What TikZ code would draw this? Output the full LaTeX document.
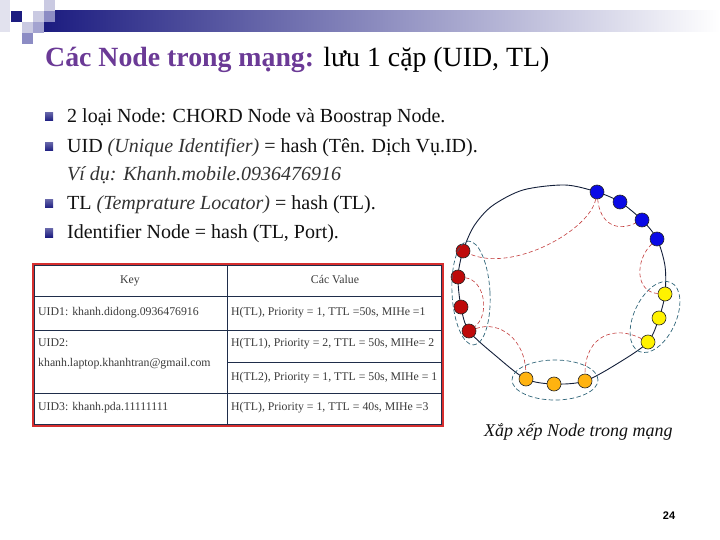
\documentclass[tikz,border=0pt]{standalone}
\usepackage{fontspec}
\setmainfont{Liberation Serif}
\newfontfamily\pagefont{Liberation Sans}
\usetikzlibrary{backgrounds}
\definecolor{Navy}{HTML}{1C1C80}
\definecolor{NavyMid}{HTML}{8C8CC4}
\definecolor{NavyLight}{HTML}{CACAE2}
\definecolor{NavyPale}{HTML}{E2E2EE}
\definecolor{TitlePurple}{HTML}{6B3A96}
\definecolor{Ink}{HTML}{111111}
\definecolor{SoftInk}{HTML}{333333}
\definecolor{CellInk}{HTML}{3A3A3A}
\definecolor{CellLine}{HTML}{1F2D4A}
\definecolor{TableRed}{HTML}{D62E2E}
\definecolor{RingInk}{HTML}{14203A}
\definecolor{NodeBlue}{HTML}{0A0AE6}
\definecolor{NodeRed}{HTML}{BE0A0A}
\definecolor{NodeYellow}{HTML}{FFF200}
\definecolor{NodeOrange}{HTML}{FFB310}
\definecolor{FingerRed}{HTML}{C23A3A}
\definecolor{GroupTeal}{HTML}{2E6478}
\tikzset{
  ringnode/.style={circle,draw=black!85,line width=0.6pt,minimum size=14pt,inner sep=0pt},
  bluenode/.style={ringnode,fill=NodeBlue},
  rednode/.style={ringnode,fill=NodeRed},
  yellownode/.style={ringnode,fill=NodeYellow},
  orangenode/.style={ringnode,fill=NodeOrange},
  ring/.style={draw=RingInk,line width=0.9pt},
  finger/.style={draw=FingerRed,line width=0.6pt,dash pattern=on 4pt off 2.5pt},
  group/.style={draw=GroupTeal,line width=0.7pt,dash pattern=on 4.5pt off 2.5pt},
  bullettext/.style={anchor=base west,inner sep=0pt,text=Ink,font=\fontsize{20}{24}\selectfont},
  cell/.style={anchor=base west,inner sep=0pt,text=CellInk,font=\fontsize{11.8}{14}\selectfont},
  headcell/.style={cell,anchor=base}
}
\begin{document}
\begin{tikzpicture}[x=1pt,y=-1pt]
  \useasboundingbox (0,0) rectangle (720,540);
  % title bar and squares
  \shade[left color=Navy,right color=white] (44,11) rectangle (720,32);
  \fill[NavyPale] (0,0) rectangle (10,32);
  \fill[Navy] (11,11) rectangle (22,22);
  \fill[NavyLight] (22,22) rectangle (33,33);
  \fill[NavyLight] (33,11) rectangle (44,22);
  \fill[NavyMid!80] (33,22) rectangle (44,33);
  \fill[NavyLight] (44,0) rectangle (55,11);
  \fill[NavyMid] (44,11) rectangle (55,22);
  \fill[NavyMid] (22,33) rectangle (33,44);
  \node[anchor=base west,inner sep=0pt,font=\fontsize{27.8}{32}\selectfont] (title) at (45,67)
    {\textcolor{TitlePurple}{\bfseries Các Node trong mạng:} lưu 1 cặp (UID, TL)};
  % bullets
  \foreach \by in {117,147,204,233}
    \shade[top color=Navy!70,bottom color=Navy] (45,\by-4) rectangle (53,\by+4);
  \node[bullettext] (b1) at (67,123) {2 loại Node: CHORD Node và Boostrap Node.};
  \node[bullettext] (b2) at (67,153) {UID \textcolor{SoftInk}{\itshape (Unique Identifier)} = hash (Tên. Dịch Vụ.ID).};
  \node[bullettext] (ex) at (67,181) {\textcolor{SoftInk}{\itshape Ví dụ: Khanh.mobile.0936476916}};
  \node[bullettext] (b3) at (67,210) {TL \textcolor{SoftInk}{\itshape (Temprature Locator)} = hash (TL).};
  \node[bullettext] (b4) at (67,239) {Identifier Node = hash (TL, Port).};
  % table
  \draw[CellLine,line width=0.7pt] (227,264) -- (227,426);
  \draw[CellLine,line width=0.7pt] (33,296) -- (443,296);
  \draw[CellLine,line width=0.7pt] (33,330) -- (443,330);
  \draw[CellLine,line width=0.7pt] (227,362) -- (443,362);
  \draw[CellLine,line width=0.7pt] (33,393) -- (443,393);
  \draw[CellLine,line width=0.6pt] (34.5,265.5) rectangle (441.5,424.5);
  \draw[TableRed,line width=1.8pt] (33,264) rectangle (443,426);
  \node[headcell] (key) at (130,283) {Key};
  \node[headcell] (val) at (335,283) {Các Value};
  \node[cell] (k1) at (38,315) {UID1: khanh.didong.0936476916};
  \node[cell] (v1) at (231,315) {H(TL), Priority = 1, TTL =50s, MIHe =1};
  \node[cell] (k2) at (38,346) {UID2:};
  \node[cell] (k2b) at (38,366) {khanh.laptop.khanhtran@gmail.com};
  \node[cell] (v2a) at (231,346) {H(TL1), Priority = 2, TTL = 50s, MIHe= 2};
  \node[cell] (v2b) at (231,380) {H(TL2), Priority = 1, TTL = 50s, MIHe = 1};
  \node[cell] (k3) at (38,410) {UID3: khanh.pda.11111111};
  \node[cell] (v3) at (231,410) {H(TL), Priority = 1, TTL = 40s, MIHe =3};
  % ring nodes
  \foreach \n/\s/\p in {nb1/bluenode/{597,192},nb2/bluenode/{620,202},nb3/bluenode/{642,220},nb4/bluenode/{657,239},
      ny1/yellownode/{665,294},ny2/yellownode/{659,318},ny3/yellownode/{648,342},
      no1/orangenode/{526,379},no2/orangenode/{554,384},no3/orangenode/{585,381},
      nr1/rednode/{463,251},nr2/rednode/{458,277},nr3/rednode/{461,307},nr4/rednode/{469,331}}
    \node[\s] (\n) at (\p) {};
  \begin{scope}[on background layer]
    \draw[ring] plot[smooth cycle,tension=0.5] coordinates {(nr1) (474,226) (492,206) (523,190) (565,185)
      (nb1) (nb2) (nb3) (nb4) (665,266) (ny1) (ny2) (ny3) (620,362) (no3) (no2) (no1)
      (496,356) (nr4) (nr3) (nr2)};
  \end{scope}
  % groups
  \draw[group,rotate around={3:(471,293)}] (471,293) ellipse [x radius=19pt,y radius=52pt];
  \draw[group] (555,380) ellipse [x radius=43pt,y radius=20pt];
  \draw[group,rotate around={-25:(655,317)}] (655,317) ellipse [x radius=21pt,y radius=38pt];
  % fingers
  \draw[finger] (nb1) .. controls +(-7,38) and +(50,22) .. (nr1);
  \draw[finger] (nb1) .. controls +(3,32) and +(-25,12) .. (nb3);
  \draw[finger] (nb4) .. controls +(-22,21) and +(-30,-2) .. (ny1);
  \draw[finger] (ny3) .. controls +(-33,-17) and +(0,-46) .. (no3);
  \draw[finger] (nr4) .. controls +(31,-11) and +(-1,-39) .. (no1);
  \draw[finger] (nr2) .. controls +(27,3) and +(21,-16) .. (nr4);
  \node[anchor=base west,inner sep=0pt,text=Ink,font=\itshape\fontsize{18}{22}\selectfont] (caption) at (484,436)
    {Xắp xếp Node trong mạng};
  \node[inner sep=0pt,font=\pagefont\bfseries\fontsize{11}{13}\selectfont] (page) at (669,516) {24};
\end{tikzpicture}
\end{document}
